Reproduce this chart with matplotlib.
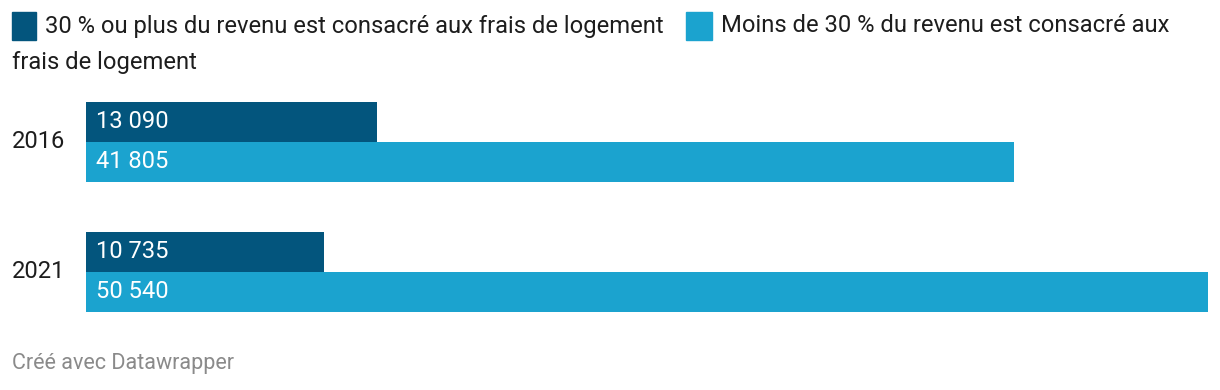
import matplotlib
matplotlib.use('Agg')
import matplotlib.pyplot as plt
from matplotlib.patches import Rectangle

plt.rcParams['font.family'] = ['Roboto', 'DejaVu Sans']

years = ['2016', '2021']
plus_30 = [13090, 10735]
moins_30 = [41805, 50540]
series_names = ['30 % ou plus du revenu est consacré aux frais de logement',
                'Moins de 30 % du revenu est consacré aux']
legend_wrap = 'frais de logement'
colors = ['#03557d', '#1ba3cf']
footer = 'Créé avec Datawrapper'

W, H = 1220, 390
FS = 17.1
fig = plt.figure(figsize=(W / 100, H / 100), dpi=100, facecolor='white')

# axes: x from 86 to 1208 px, y from 102 to 312 px
ax = fig.add_axes([86 / W, 1 - 312 / H, (1208 - 86) / W, 210 / H])
ax.set_xlim(0, 50540)
bh = 40 / 130
ax.set_ylim(1 + bh, -bh)
ax.axis('off')

for i, y in enumerate(years):
    ax.barh(i - bh / 2, plus_30[i], height=bh, color=colors[0], linewidth=0)
    ax.barh(i + bh / 2, moins_30[i], height=bh, color=colors[1], linewidth=0)
    ax.text(10 / 1122 * 50540, i - bh / 2, f"{plus_30[i]:,}".replace(',', ' '),
            color='white', fontsize=FS, va='center', ha='left')
    ax.text(10 / 1122 * 50540, i + bh / 2, f"{moins_30[i]:,}".replace(',', ' '),
            color='white', fontsize=FS, va='center', ha='left')
    ax.text(-74 / 1122 * 50540, i, y, color='#1d1d1d', fontsize=FS,
            va='center', ha='left')

# legend
fig.patches.append(Rectangle((12 / W, 1 - 40 / H), 24 / W, 28 / H,
                             transform=fig.transFigure, color=colors[0]))
fig.text(45 / W, 1 - 26 / H, series_names[0], fontsize=FS, color='#1d1d1d',
         va='center', ha='left')
fig.patches.append(Rectangle((686 / W, 1 - 40 / H), 26 / W, 28 / H,
                             transform=fig.transFigure, color=colors[1]))
fig.text(721 / W, 1 - 26 / H, series_names[1], fontsize=FS, color='#1d1d1d',
         va='center', ha='left')
fig.text(12 / W, 1 - 62 / H, legend_wrap, fontsize=FS, color='#1d1d1d',
         va='center', ha='left')

fig.text(12 / W, 1 - 364 / H, footer, fontsize=15.5, color='#8a8a8a',
         va='center', ha='left')

plt.savefig('out.png', dpi=100, facecolor='white')
plt.close()
